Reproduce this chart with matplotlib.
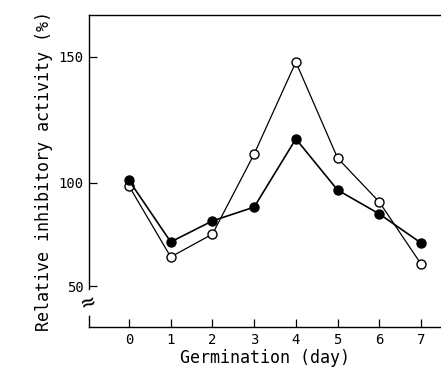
import numpy as np
import matplotlib
matplotlib.use("Agg")
import matplotlib.pyplot as plt
from matplotlib.scale import FuncScale

days = [0, 1, 2, 3, 4, 5, 6, 7]
filled_vals = [101.0, 71.4, 81.6, 88.3, 117.5, 96.6, 85.0, 70.9]
open_vals = [98.5, 64.1, 75.2, 111.5, 148.0, 109.9, 90.8, 60.7]
yticks = [50, 100, 150]
xticks = [0, 1, 2, 3, 4, 5, 6, 7]

# piecewise-linear y scale (the original axis is unevenly drawn)
_v = np.array([0.0, 50.0, 100.0, 150.0, 250.0])
_p = np.array([41 - 103.0, 41.0, 144.0, 270.0, 270.0 + 252.0])

def fwd(v):
    return np.interp(v, _v, _p)

def inv(p):
    return np.interp(p, _p, _v)

plt.rcParams['font.family'] = ['DejaVu Sans Mono']

W, H = 441, 367
fig = plt.figure(figsize=(W / 100, H / 100), dpi=100)
ax = fig.add_axes([89 / W, 40 / H, (441 - 89) / W, (327 - 15) / H])
ax.set_yscale(FuncScale(ax, (fwd, inv)))

ax.plot(days, open_vals, color='black', lw=0.9, marker='o', ms=6.5,
        mfc='white', mec='black', mew=1.0, zorder=3)
ax.plot(days, filled_vals, color='black', lw=1.2, marker='o', ms=6.5,
        mfc='black', mec='black', mew=1.0, zorder=4)

ax.set_xlim(-0.96, 7.48)
ax.set_ylim(inv(0.0), inv(312.0))
ax.set_xticks(xticks)
ax.set_yticks(yticks)
ax.tick_params(direction='in', length=6, width=0.9, labelsize=10, pad=4)
ax.spines['right'].set_visible(False)
for s in ['left', 'top', 'bottom']:
    ax.spines[s].set_linewidth(1.0)

ax.set_xlabel('Germination (day)', fontsize=12, labelpad=2)
ax.set_ylabel('Relative inhibitory activity (%)', fontsize=12, labelpad=4)

# axis break symbol
ax.text(0.0, 41.7, '≈', transform=ax.get_yaxis_transform(), ha='center',
        va='center', fontsize=17, rotation=20,
        bbox=dict(facecolor='white', edgecolor='none', pad=0.0), zorder=5,
        clip_on=False)

fig.savefig('out.png', dpi=100)
